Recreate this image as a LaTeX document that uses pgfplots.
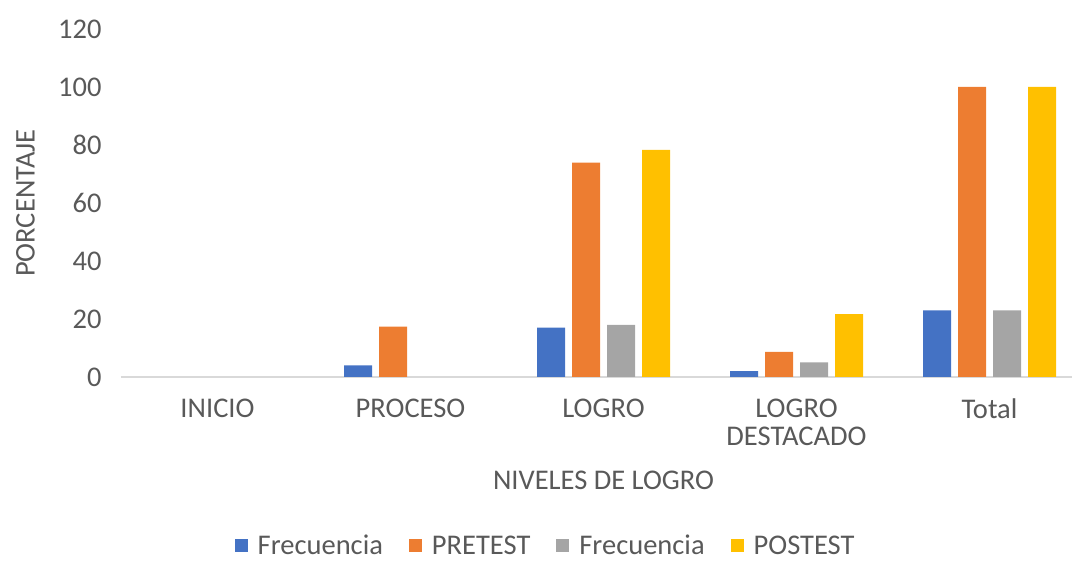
\documentclass[border=0pt]{standalone}
\usepackage{pgfplots}
\pgfplotsset{compat=1.18}
\usepackage{fontspec}
\setmainfont{Carlito}
\definecolor{cblue}{HTML}{4472C4}
\definecolor{corange}{HTML}{ED7D31}
\definecolor{cgray}{HTML}{A5A5A5}
\definecolor{cgold}{HTML}{FFC000}
\definecolor{ctext}{HTML}{595959}
\definecolor{caxis}{HTML}{D9D9D9}

\begin{document}
\begin{tikzpicture}
\useasboundingbox (0,0) rectangle (1072pt,561pt);
\begin{axis}[
  at={(121pt,184pt)}, anchor=south west,
  scale only axis, width=965pt, height=348pt,
  ybar=7pt, bar width=28pt,
  xmin=-0.5, xmax=4.5, ymin=0, ymax=120,
  restrict y to domain=0.01:200,
  xtick={0,1,2,3,4},
  xticklabels={INICIO,PROCESO,LOGRO,{LOGRO\\DESTACADO},Total},
  ytick={0,20,40,60,80,100,120},
  axis x line*=bottom, axis y line*=left,
  x axis line style={draw=caxis, line width=1.5pt, -},
  y axis line style={draw=none},
  major tick style={draw=none},
  /pgf/number format/assume math mode=true,
  tick label style={font=\fontsize{28.5}{28}\selectfont, text=ctext},
  xticklabel style={align=center, anchor=north, yshift=-14pt},
  yticklabel style={anchor=east, xshift=-16pt},
  xlabel={NIVELES DE LOGRO},
  ylabel={PORCENTAJE},
  label style={font=\fontsize{28.5}{28}\selectfont, text=ctext},
  xlabel style={at={(axis description cs:0.5,-0.296)}, anchor=center},
  ylabel style={at={(axis description cs:-0.099,0.5)}, anchor=center},
  legend style={draw=none, fill=none, at={(0.44,-0.485)}, anchor=center,
    inner sep=0pt,
    font=\fontsize{28.5}{28}\selectfont, text=ctext, legend columns=4,
    /tikz/every odd column/.append style={column sep=8pt},
    /tikz/every even column/.append style={column sep=24pt}},
  legend image code/.code={\fill[#1] (0pt,-6.5pt) rectangle (13pt,6.5pt);},
]
\addplot[fill=cblue, draw=none] coordinates {(0,0) (1,4) (2,17) (3,2) (4,23)};
\addplot[fill=corange, draw=none] coordinates {(0,0) (1,17.4) (2,73.9) (3,8.7) (4,100)};
\addplot[fill=cgray, draw=none] coordinates {(0,0) (1,0) (2,18) (3,5) (4,23)};
\addplot[fill=cgold, draw=none] coordinates {(0,0) (1,0) (2,78.3) (3,21.7) (4,100)};
\legend{Frecuencia, PRETEST, Frecuencia, POSTEST}
\end{axis}
\end{tikzpicture}
\end{document}
